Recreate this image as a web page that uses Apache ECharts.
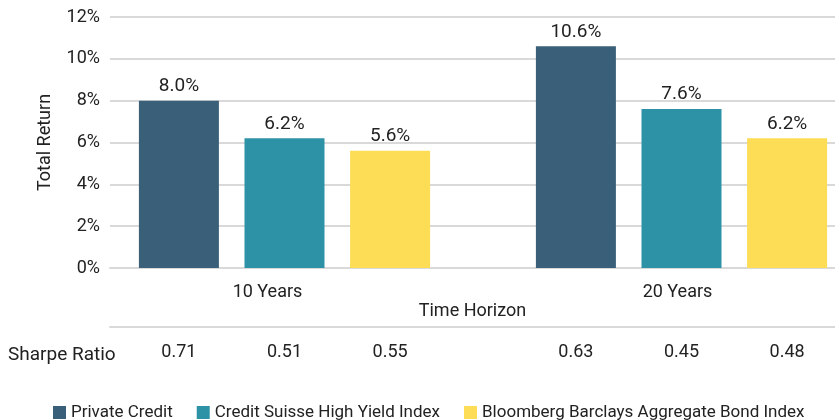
<!DOCTYPE html>
<html>
<head>
<meta charset="utf-8">
<script src="https://cdn.jsdelivr.net/npm/echarts@6/dist/echarts.min.js"></script>
<style>
  html, body { margin: 0; padding: 0; background: #fff; }
  #chart { width: 835px; height: 420px; }
</style>
</head>
<body>
<div id="chart"></div>
<script>
const horizons = ['10 Years', '20 Years'];
const privateCredit = [8.0, 10.6];
const highYield = [6.2, 7.6];
const aggBond = [5.6, 6.2];
const sharpePrivate = [0.71, 0.63];
const sharpeHighYield = [0.51, 0.45];
const sharpeAggBond = [0.55, 0.48];
const seriesNames = ['Private Credit', 'Credit Suisse High Yield Index', 'Bloomberg Barclays Aggregate Bond Index'];
const colors = ['#3a6079', '#2e92a7', '#fddc56'];

const chart = echarts.init(document.getElementById('chart'));

const font = 'Roboto, "Noto Sans", sans-serif';
const gridColor = '#d9d9d9';
const textColor = '#222';

// Bars and Sharpe row share the same band layout
const barLayout = { barWidth: 80, barGap: '32%', barCategoryGap: '26%' };

const returnSeries = [privateCredit, highYield, aggBond].map((data, i) => ({
  name: seriesNames[i],
  type: 'bar',
  xAxisIndex: 2,
  yAxisIndex: 1,
  ...barLayout,
  itemStyle: { color: colors[i] },
  label: {
    show: true,
    position: 'top',
    distance: 5,
    color: textColor,
    fontSize: 19,
    fontFamily: font,
    formatter: p => p.value.toFixed(1) + '%'
  },
  data
}));

const sharpeSeries = [sharpePrivate, sharpeHighYield, sharpeAggBond].map((data, i) => ({
  name: seriesNames[i] + ' sharpe',
  type: 'bar',
  xAxisIndex: 3,
  yAxisIndex: 2,
  silent: true,
  ...barLayout,
  itemStyle: { color: 'rgba(0,0,0,0)' },
  label: {
    show: true,
    position: 'insideBottom',
    distance: 4,
    color: textColor,
    fontSize: 18,
    fontFamily: font,
    formatter: p => p.value.toFixed(2)
  },
  data
}));

const option = {
  backgroundColor: '#fff',
  animation: false,
  textStyle: { fontFamily: font },
  title: {
    text: 'Sharpe Ratio',
    left: 3,
    top: 341,
    textStyle: { fontSize: 19, fontWeight: 'normal', color: textColor, fontFamily: font }
  },
  legend: {
    data: seriesNames,
    left: 48,
    top: 399,
    width: 790,
    icon: 'rect',
    itemWidth: 13,
    itemHeight: 13,
    itemGap: 24,
    textStyle: { fontSize: 17, color: textColor, fontFamily: font }
  },
  grid: [
    // axes, gridlines and titles
    { left: 110, right: 0, top: 17, height: 251 },
    // bars (runs past the right edge, like the reference crop)
    { left: 86, width: 794, top: 17, height: 251, outerBoundsMode: 'none' },
    // sharpe row
    { left: 86, width: 794, top: 335, height: 30, outerBoundsMode: 'none' }
  ],
  xAxis: [
    {
      gridIndex: 0,
      type: 'category',
      data: horizons,
      name: 'Time Horizon',
      nameLocation: 'middle',
      nameGap: 34,
      nameTextStyle: { fontSize: 18, color: textColor },
      axisLine: { lineStyle: { color: gridColor, width: 2 } },
      axisTick: { show: false },
      axisLabel: { show: false }
    },
    {
      gridIndex: 0,
      type: 'category',
      data: horizons,
      position: 'bottom',
      offset: 59,
      axisLine: { lineStyle: { color: gridColor, width: 2 } },
      axisTick: { show: false },
      axisLabel: { show: false }
    },
    {
      gridIndex: 1,
      type: 'category',
      data: horizons,
      axisLine: { show: false },
      axisTick: { show: false },
      axisLabel: {
        margin: 15,
        fontSize: 18,
        color: textColor,
        formatter: (v, i) => (i === 0 ? '{a|' + v + '}' : '{b|' + v + '}'),
        rich: {
          a: { fontSize: 18, color: textColor, padding: [0, 34, 0, 0] },
          b: { fontSize: 18, color: textColor, padding: [0, 8, 0, 0] }
        }
      }
    },
    {
      gridIndex: 2,
      type: 'category',
      data: horizons,
      show: false
    }
  ],
  yAxis: [
    {
      gridIndex: 0,
      type: 'value',
      min: 0,
      max: 12,
      interval: 2,
      name: 'Total Return',
      nameLocation: 'middle',
      nameGap: 56,
      nameTextStyle: { fontSize: 18, color: textColor },
      axisLine: { show: false },
      axisTick: { show: false },
      axisLabel: { margin: 10, fontSize: 18, color: textColor, formatter: '{value}%' },
      splitLine: { lineStyle: { color: gridColor, width: 2 } }
    },
    {
      gridIndex: 1,
      type: 'value',
      min: 0,
      max: 12,
      show: false,
      splitLine: { show: false }
    },
    {
      gridIndex: 2,
      type: 'value',
      min: 0,
      max: 1,
      show: false,
      splitLine: { show: false }
    }
  ],
  series: [...returnSeries, ...sharpeSeries]
};

chart.setOption(option);

window.addEventListener('resize', () => chart.resize());
</script>
</body>
</html>
